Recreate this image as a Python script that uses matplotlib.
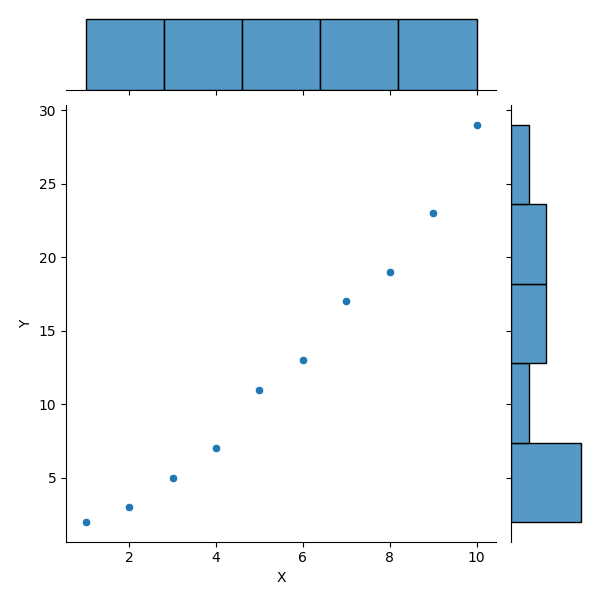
import pandas as pd
import seaborn as sns
import matplotlib
matplotlib.use("Agg")
from matplotlib import pyplot as plt

# data
x_vals = [1, 2, 3, 4, 5, 6, 7, 8, 9, 10]
y_vals = [2, 3, 5, 7, 11, 13, 17, 19, 23, 29]

df = pd.DataFrame({"X": x_vals, "Y": y_vals})

g = sns.jointplot(data=df, x="X", y="Y", height=6)
# keep the full 6x6 canvas (seaborn's savefig crops tight)
g.figure.savefig("out.png", dpi=100)
